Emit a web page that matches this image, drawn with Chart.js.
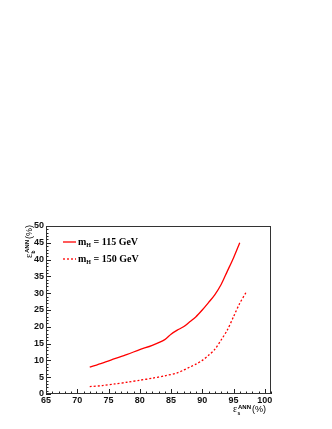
<!DOCTYPE html>
<html>
<head>
<meta charset="utf-8">
<script src="https://cdn.jsdelivr.net/npm/chart.js@4/dist/chart.umd.min.js"></script>
<style>
  html, body { margin: 0; padding: 0; background: #fff; }
  #wrap { width: 332px; height: 429px; }
</style>
</head>
<body>
<div id="wrap"><canvas id="myChart" width="332" height="429"></canvas></div>
<script>
// signal efficiency (%) vs background efficiency (%)
let sigEff115 = [72, 74, 76, 78, 80, 82, 84, 85, 86, 87, 88, 89, 90, 91, 92, 93, 94, 95, 96];
let bkgEff115 = [8, 9.2, 10.5, 11.8, 13.2, 14.5, 16.2, 17.8, 19, 20, 21.5, 23, 25, 27.2, 29.5, 32.5, 36.5, 40.5, 45];
let sigEff150 = [72, 74, 76, 78, 80, 82, 84, 86, 87, 88, 89, 90, 91, 92, 93, 94, 95, 96, 97];
let bkgEff150 = [2.2, 2.5, 3, 3.5, 4.1, 4.7, 5.4, 6.3, 7.1, 8.0, 8.9, 10, 11.5, 13.3, 16, 19, 23, 27, 30.2];
let seriesNames = ["115 GeV", "150 GeV"];
let xTicks = [65, 70, 75, 80, 85, 90, 95, 100];
let yTicks = [0, 5, 10, 15, 20, 25, 30, 35, 40, 45, 50];

function toPoints(xs, ys) {
    let pts = [];
    for (let i = 0; i < xs.length; i++) pts.push({ x: xs[i], y: ys[i] });
    return pts;
}

// ROOT style ticks inside the frame
const innerTicks = {
    id: 'innerTicks',
    afterDraw(chart) {
        const ctx = chart.ctx;
        const a = chart.chartArea;
        const xs = chart.scales.x, ys = chart.scales.y;
        ctx.save();
        ctx.strokeStyle = '#222';
        ctx.lineWidth = 1;
        ctx.beginPath();
        for (let v = 65; v <= 101; v++) {
            let px = Math.round(xs.getPixelForValue(v)) + 0.5;
            let len = (v % 5 === 0) ? 5 : 2.5;
            ctx.moveTo(px, a.bottom);
            ctx.lineTo(px, a.bottom - len);
        }
        for (let v = 0; v <= 50; v++) {
            let py = Math.round(ys.getPixelForValue(v)) + 0.5;
            let len = (v % 5 === 0) ? 5 : 2.5;
            ctx.moveTo(a.left, py);
            ctx.lineTo(a.left + len, py);
        }
        ctx.stroke();
        // frame
        ctx.strokeStyle = '#333';
        ctx.strokeRect(a.left + 0.5, a.top + 0.5, a.right - a.left - 1, a.bottom - a.top - 1);
        ctx.restore();
    }
};

function drawTitle(ctx, x, y, sub) {
    ctx.font = '10px "Liberation Serif"';
    ctx.fillText('\u03b5', x, y);
    ctx.font = 'bold 5px "Liberation Sans"';
    ctx.fillText(sub, x + 4.5, y + 2.5);
    ctx.font = 'bold 6px "Liberation Sans"';
    ctx.fillText('ANN', x + 5, y - 3.5);
    ctx.font = '9px "Liberation Sans"';
    ctx.fillText('(%)', x + 19, y);
}

const titlesAndLegend = {
    id: 'titlesAndLegend',
    afterDraw(chart) {
        const ctx = chart.ctx;
        ctx.save();
        ctx.fillStyle = '#000';
        ctx.textBaseline = 'alphabetic';
        ctx.textAlign = 'left';

        // x title
        drawTitle(ctx, 233, 412, 's');

        // y title (rotated)
        ctx.save();
        ctx.translate(32, 258);
        ctx.rotate(-Math.PI / 2);
        drawTitle(ctx, 0, 0, 'b');
        ctx.restore();

        // legend
        const rows = [
            { y: 242, dash: [], label: seriesNames[0] },
            { y: 259, dash: [2, 2], label: seriesNames[1] }
        ];
        rows.forEach(function (r) {
            ctx.strokeStyle = '#ff0000';
            ctx.lineWidth = 1.3;
            ctx.setLineDash(r.dash);
            ctx.beginPath();
            ctx.moveTo(63, r.y);
            ctx.lineTo(76, r.y);
            ctx.stroke();
            ctx.setLineDash([]);
            ctx.fillStyle = '#000';
            ctx.font = 'bold 10px "Liberation Serif"';
            ctx.fillText('m', 78, r.y + 3);
            let w = ctx.measureText('m').width;
            ctx.font = 'bold 6px "Liberation Serif"';
            ctx.fillText('H', 78 + w, r.y + 5);
            let w2 = ctx.measureText('H').width;
            ctx.font = 'bold 10px "Liberation Serif"';
            ctx.fillText(' = ' + r.label, 78 + w + w2, r.y + 3);
        });
        ctx.restore();
    }
};

const config = {
    type: 'line',
    data: {
        datasets: [{
            label: seriesNames[0],
            data: toPoints(sigEff115, bkgEff115),
            borderColor: '#ff0000',
            borderWidth: 1.3,
            pointRadius: 0,
            tension: 0.3,
            fill: false
        }, {
            label: seriesNames[1],
            data: toPoints(sigEff150, bkgEff150),
            borderColor: '#ff0000',
            borderWidth: 1.3,
            borderDash: [2, 2],
            pointRadius: 0,
            tension: 0.3,
            fill: false
        }]
    },
    options: {
        responsive: false,
        animation: false,
        layout: { padding: { top: 226, right: 61, left: 0, bottom: 0 } },
        plugins: {
            legend: { display: false },
            tooltip: { enabled: false },
            title: { display: false }
        },
        scales: {
            x: {
                type: 'linear',
                min: 65,
                max: 101,
                afterBuildTicks: function (s) { s.ticks = xTicks.map(v => ({ value: v })); },
                afterFit: function (s) { s.height = 35; },
                grid: { display: false, drawTicks: false },
                border: { display: false },
                ticks: {
                    padding: 1,
                    maxRotation: 0,
                    autoSkip: false,
                    color: '#111',
                    font: { family: 'Liberation Sans', size: 9, weight: 'bold' }
                }
            },
            y: {
                type: 'linear',
                min: 0,
                max: 50,
                afterBuildTicks: function (s) { s.ticks = yTicks.map(v => ({ value: v })); },
                afterFit: function (s) { s.width = 46; },
                grid: { display: false, drawTicks: false },
                border: { display: false },
                ticks: {
                    padding: 2,
                    autoSkip: false,
                    color: '#111',
                    font: { family: 'Liberation Sans', size: 9, weight: 'bold' }
                }
            }
        }
    },
    plugins: [innerTicks, titlesAndLegend]
};

let chart = new Chart('myChart', config);
</script>
</body>
</html>
